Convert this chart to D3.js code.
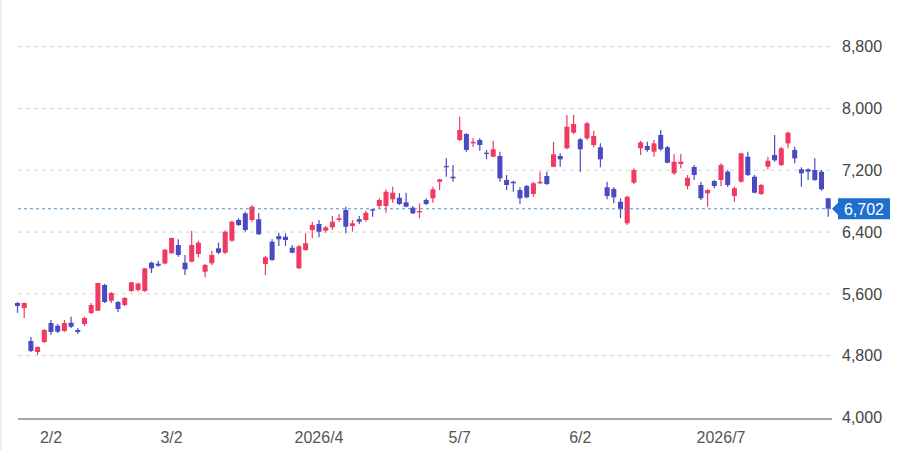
<!DOCTYPE html>
<html>
<head>
<meta charset="utf-8">
<script src="https://cdn.jsdelivr.net/npm/d3@7"></script>
<style>
  body { margin: 0; background: #fff; }
  svg { display: block; font-family: Arial, "Liberation Sans", sans-serif; }
</style>
</head>
<body>
<script>
// daily candles, 2026
var dates = [
  "01-26","01-27","01-28","01-29","01-30",
  "02-02","02-03","02-04","02-05","02-06","02-09","02-10","02-12","02-13","02-16","02-17","02-18","02-19","02-20","02-24","02-25","02-26","02-27",
  "03-02","03-03","03-04","03-05","03-06","03-09","03-10","03-11","03-12","03-13","03-16","03-17","03-18","03-19","03-20","03-23","03-24","03-25","03-26","03-27","03-30","03-31",
  "04-01","04-02","04-03","04-06","04-07","04-08","04-09","04-10","04-13","04-14","04-15","04-16","04-17","04-20","04-21","04-22","04-23","04-24","04-27","04-28","04-30",
  "05-07","05-08","05-11","05-12","05-13","05-14","05-15","05-18","05-19","05-20","05-21","05-22","05-25","05-26","05-27","05-28","05-29",
  "06-01","06-02","06-03","06-04","06-05","06-08","06-09","06-10","06-11","06-12","06-15","06-16","06-17","06-18","06-19","06-22","06-23","06-24","06-25","06-26","06-29","06-30",
  "07-01","07-02","07-03","07-06","07-07","07-08","07-09","07-10","07-13","07-14","07-15","07-16","07-17","07-20","07-21","07-22","07-23"
];

var open = [
  5482,5417,4990,4848,4977,5223,5188,5120,5227,5133,5210,5353,5382,5715,5512,5495,5456,5638,5650,5638,
  6004,5991,5993,6126,6233,6004,6017,6116,5887,5996,6190,6133,6289,6557,6643,6557,6566,5987,6276,6349,
  6340,6198,5931,6168,6427,6505,6418,6462,6557,6686,6479,6566,6557,6695,6738,6738,6825,6845,6786,6716,
  6656,6815,6838,7052,7256,7117,7592,7670,7549,7592,7428,7376,7385,7074,7052,6945,6997,6893,7032,7126,
  7246,7385,7485,7687,7601,7614,7527,7498,6980,6958,6793,6514,7039,7485,7515,7441,7657,7498,7161,7282,
  6997,7243,7010,6902,7061,7074,7182,6867,7052,7376,7117,6893,7246,7398,7269,7549,7463,7213,7213,7204,
  7182,6838
];
var high = [
  5495,5490,5042,4920,5146,5262,5210,5262,5305,5159,5305,5482,5741,5728,5625,5508,5560,5754,5745,5935,
  6017,6030,6180,6330,6307,6104,6418,6289,5987,6159,6263,6425,6548,6578,6664,6750,6643,6091,6307,6392,
  6384,6233,6233,6384,6535,6557,6479,6608,6634,6729,6557,6608,6677,6695,6837,6954,6988,6902,6910,6738,
  6773,6837,6988,7087,7355,7268,7894,7679,7614,7614,7463,7583,7441,7139,7066,6980,7010,7052,7182,7182,
  7570,7420,7916,7916,7618,7829,7713,7550,7052,6980,6837,6867,7226,7583,7570,7592,7722,7515,7411,7411,
  7139,7268,7052,6954,7074,7290,7204,6988,7428,7441,7139,7023,7376,7657,7506,7700,7506,7238,7226,7355,
  7204,6838
];
var low = [
  5355,5288,4848,4809,4964,5068,5094,5107,5159,5081,5184,5340,5378,5482,5482,5366,5443,5625,5630,5625,
  5870,5952,5985,6120,6082,5845,6009,6074,5815,5974,6116,6116,6276,6479,6405,6535,6363,5845,6030,6220,
  6220,6126,5922,6160,6320,6332,6392,6427,6535,6384,6405,6505,6535,6599,6708,6651,6781,6751,6721,6634,
  6579,6751,6781,6945,7117,7052,7580,7441,7506,7454,7342,7368,7052,6945,6923,6764,6838,6858,7023,7010,
  7239,7246,7472,7670,7182,7592,7498,7239,6824,6772,6579,6492,7023,7398,7441,7376,7454,7290,7139,7226,
  6954,7074,6815,6729,6967,6992,6984,6794,7039,7126,6902,6880,7213,7311,7256,7485,7290,6988,7074,7065,
  6936,6599
];
var close = [
  5443,5482,4861,4913,5133,5107,5111,5223,5175,5107,5288,5456,5741,5495,5612,5404,5547,5750,5734,5931,
  5931,5965,6172,6324,6103,5918,6233,6263,5974,6104,6133,6405,6535,6492,6427,6729,6372,6074,6039,6307,
  6298,6133,6216,6255,6492,6405,6462,6535,6578,6470,6514,6535,6651,6677,6815,6923,6910,6764,6729,6643,
  6673,6764,6954,7083,7239,7096,7722,7463,7570,7527,7411,7472,7096,7010,7032,6838,6850,7032,7052,7023,
  7407,7342,7764,7799,7472,7808,7644,7342,6867,6850,6695,6858,7204,7562,7463,7549,7472,7298,7311,7311,
  7104,7139,6838,6945,6997,7268,7010,6967,7420,7139,6910,7010,7324,7330,7485,7687,7355,7161,7182,7074,
  6954,6702
];

var yTicks = [4000, 4800, 5600, 6400, 7200, 8000, 8800];
var tickDates = ["02-02", "03-02", "04-01", "05-07", "06-02", "07-01"];
var tickLabels = ["2/2", "3/2", "2026/4", "5/7", "6/2", "2026/7"];
var lastPrice = 6702;

var width = 901, height = 450;
var plotLeft = 18, plotRight = 832;
var upColor = "#ef3a62", downColor = "#4a4ac2";

var data = dates.map(function(d, i) {
  return {date: d, o: open[i], h: high[i], l: low[i], c: close[i]};
});

var x = d3.scaleBand()
    .domain(dates)
    .range([14.15, 831.55])
    .paddingInner(0.25)
    .paddingOuter(0.125);

var y = d3.scaleLinear()
    .domain([4000, 8800])
    .range([417.5, 46.7]);

var svg = d3.select("body").append("svg")
    .attr("width", width)
    .attr("height", height);

// left frame edge
svg.append("line")
    .attr("x1", 1).attr("x2", 1)
    .attr("y1", 0).attr("y2", height)
    .attr("stroke", "#dcdcdc");

// grid
svg.append("g")
    .selectAll("line")
    .data(yTicks.filter(function(t) { return t > 4000; }))
  .enter().append("line")
    .attr("x1", plotLeft).attr("x2", plotRight)
    .attr("y1", function(d) { return y(d); })
    .attr("y2", function(d) { return y(d); })
    .attr("stroke", "#d6d6d6")
    .attr("stroke-dasharray", "4,4");

// bottom axis line
svg.append("line")
    .attr("x1", plotLeft).attr("x2", plotRight)
    .attr("y1", y(4000) + 1.5).attr("y2", y(4000) + 1.5)
    .attr("stroke", "#888")
    .attr("stroke-width", 1.5);

// y labels (right)
svg.append("g")
    .selectAll("text")
    .data(yTicks)
  .enter().append("text")
    .attr("x", 842)
    .attr("y", function(d) { return y(d); })
    .attr("dy", "0.35em")
    .style("font-size", "16px")
    .style("fill", "#444")
    .text(function(d) { return d3.format(",")(d); });

// x labels
svg.append("g")
    .selectAll("text")
    .data(tickDates)
  .enter().append("text")
    .attr("x", function(d) { return x(d) + x.bandwidth() / 2; })
    .attr("y", 443)
    .attr("text-anchor", "middle")
    .style("font-size", "16px")
    .style("fill", "#555")
    .text(function(d, i) { return tickLabels[i]; });

// candles
var candle = svg.append("g")
    .selectAll("g")
    .data(data)
  .enter().append("g");

candle.append("line")
    .attr("x1", function(d) { return x(d.date) + x.bandwidth() / 2; })
    .attr("x2", function(d) { return x(d.date) + x.bandwidth() / 2; })
    .attr("y1", function(d) { return y(d.h); })
    .attr("y2", function(d) { return y(d.l); })
    .attr("stroke", function(d) { return d.c >= d.o ? upColor : downColor; })
    .attr("stroke-width", 1.2);

candle.append("rect")
    .attr("x", function(d) { return x(d.date); })
    .attr("width", x.bandwidth())
    .attr("y", function(d) { return y(Math.max(d.o, d.c)); })
    .attr("height", function(d) { return Math.max(1, Math.abs(y(d.o) - y(d.c))); })
    .attr("fill", function(d) { return d.c >= d.o ? upColor : downColor; });

// last price line + tag
var ly = y(lastPrice);
svg.append("line")
    .attr("x1", plotLeft).attr("x2", plotRight)
    .attr("y1", ly).attr("y2", ly)
    .attr("stroke", "#4f8fc6")
    .attr("stroke-dasharray", "3,3");

svg.append("path")
    .attr("d", "M832," + ly + " L838," + (ly - 6) + " L838," + (ly - 10.5) +
        " L890," + (ly - 10.5) + " L890," + (ly + 10.5) + " L838," + (ly + 10.5) +
        " L838," + (ly + 6) + " Z")
    .attr("fill", "#1f6fcf");

svg.append("text")
    .attr("x", 864)
    .attr("y", ly)
    .attr("dy", "0.36em")
    .attr("text-anchor", "middle")
    .style("font-size", "16px")
    .style("fill", "#fff")
    .text(d3.format(",")(lastPrice));
</script>
</body>
</html>
